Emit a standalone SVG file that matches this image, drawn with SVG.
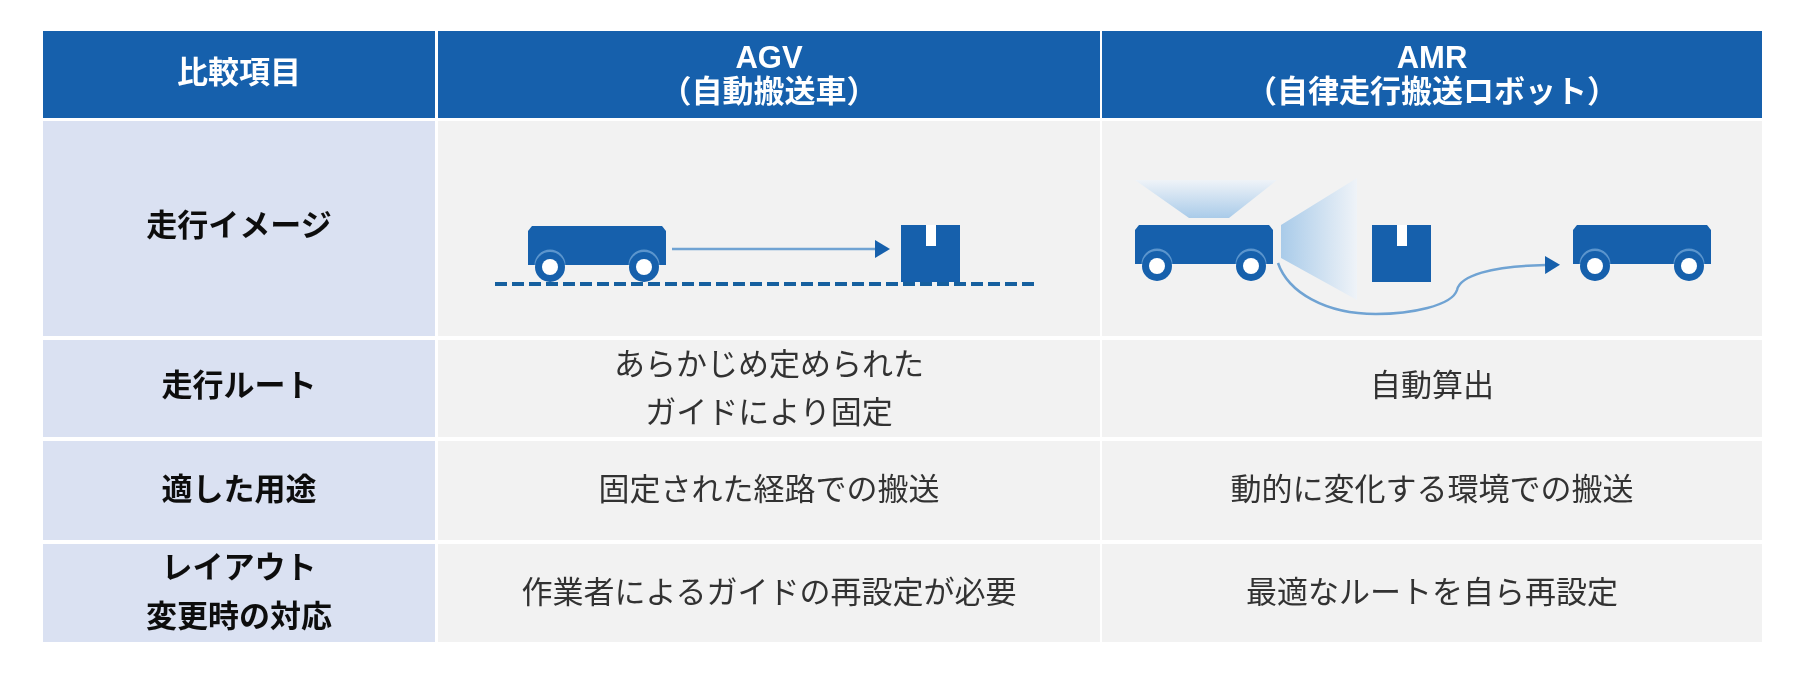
<svg xmlns="http://www.w3.org/2000/svg" width="1809" height="685" viewBox="0 0 1809 685">
<style>
text{font-family:"Noto Sans CJK JP","Noto Sans",sans-serif;text-anchor:middle;font-size:31px}
.h{fill:#1560ac}.l{fill:#dae1f2}.c{fill:#f2f2f2}
.ht{fill:#fff;font-weight:700}
.la{font-family:"Liberation Sans",Arial,sans-serif;font-size:31px}
.lt{fill:#111;font-weight:700}
.ct{fill:#333}
.b{fill:#1560ac}
</style>
<defs>
<filter id="soft" x="0" y="0" width="100%" height="100%"><feGaussianBlur stdDeviation="0.6"/></filter>
<linearGradient id="gt" x1="0" y1="1" x2="0" y2="0"><stop offset="0" stop-color="#a9cbe9"/><stop offset="1" stop-color="#eff3f8"/></linearGradient>
<linearGradient id="gr" x1="0" y1="0" x2="1" y2="0"><stop offset="0" stop-color="#a9cbe9"/><stop offset="1" stop-color="#eff3f8"/></linearGradient>
<marker id="ah" markerUnits="userSpaceOnUse" markerWidth="16" markerHeight="18" refX="1" refY="9" orient="auto"><path d="M0 0L15 9L0 18Z" fill="#1560ac"/></marker>
<g id="car">
<path class="b" d="M4 0H134L138 5V39H0V5Z"/>
<path d="M6.500 39a15.500 15.500 0 0 1 31 0ZM100.500 39a15.500 15.500 0 0 1 31 0Z" fill="#5b95cd"/>
<circle class="b" cx="22" cy="41" r="15"/><circle cx="22" cy="41" r="8" fill="#fff"/>
<circle class="b" cx="116" cy="41" r="15"/><circle cx="116" cy="41" r="8" fill="#fff"/>
</g>
<g id="box"><rect class="b" width="59" height="57"/><rect x="25" width="10" height="21" fill="#fff"/></g>
</defs>
<g filter="url(#soft)">
<g id="header">
<g id="h-item"><rect class="h" x="43" y="31" width="392" height="87"/><text class="ht" x="239" y="83">比較項目</text></g>
<g id="h-agv"><rect class="h" x="438" y="31" width="662" height="87"/><text class="ht la" x="769" y="68">AGV</text><text class="ht" x="769" y="102">（自動搬送車）</text></g>
<g id="h-amr"><rect class="h" x="1102" y="31" width="660" height="87"/><text class="ht la" x="1432" y="68">AMR</text><text class="ht" x="1432" y="102">（自律走行搬送ロボット）</text></g>
</g>
<g id="row-image">
<rect class="l" x="43" y="121" width="392" height="215"/><rect class="c" x="438" y="121" width="662" height="215"/><rect class="c" x="1102" y="121" width="660" height="215"/>
<text class="lt" x="239" y="236">走行イメージ</text>
</g>
<g id="row-route">
<rect class="l" x="43" y="340" width="392" height="97"/><rect class="c" x="438" y="340" width="662" height="97"/><rect class="c" x="1102" y="340" width="660" height="97"/>
<text class="lt" x="239" y="396">走行ルート</text>
<text class="ct" x="769" y="375">あらかじめ定められた</text><text class="ct" x="769" y="423">ガイドにより固定</text>
<text class="ct" x="1432" y="396">自動算出</text>
</g>
<g id="row-use">
<rect class="l" x="43" y="441" width="392" height="99"/><rect class="c" x="438" y="441" width="662" height="99"/><rect class="c" x="1102" y="441" width="660" height="99"/>
<text class="lt" x="239" y="500">適した用途</text>
<text class="ct" x="769" y="500">固定された経路での搬送</text>
<text class="ct" x="1432" y="500">動的に変化する環境での搬送</text>
</g>
<g id="row-layout">
<rect class="l" x="43" y="544" width="392" height="98"/><rect class="c" x="438" y="544" width="662" height="98"/><rect class="c" x="1102" y="544" width="660" height="98"/>
<text class="lt" x="239" y="578">レイアウト</text><text class="lt" x="239" y="627">変更時の対応</text>
<text class="ct" x="769" y="603">作業者によるガイドの再設定が必要</text>
<text class="ct" x="1432" y="603">最適なルートを自ら再設定</text>
</g>
<g id="agv-scene">
<use href="#car" x="528" y="226"/>
<use href="#box" x="901" y="225"/>
<line x1="495" y1="284" x2="1037" y2="284" stroke="#15609f" stroke-width="4" stroke-dasharray="12 5"/>
</g>
<g id="amr-scene">
<path d="M1135 180H1277L1229 218H1189Z" fill="url(#gt)"/>
<path d="M1281 225L1357 178V300L1281 258Z" fill="url(#gr)"/>
<use href="#car" x="1135" y="225"/>
<use href="#box" x="1372" y="225"/>
<use href="#car" x="1573" y="225"/>
</g>
<g id="connectors" fill="none" stroke="#6fa3d3" stroke-width="2.500">
<line x1="672" y1="249" x2="876" y2="249" marker-end="url(#ah)"/>
<path d="M1278 263C1288 292 1325 314 1376 314C1410 314 1452 306 1457 290C1460 276 1490 266 1546 265" marker-end="url(#ah)"/>
</g>
</g>
</svg>
